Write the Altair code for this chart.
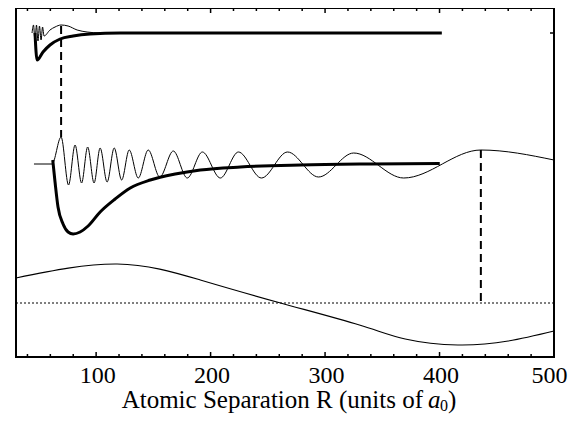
import altair as alt
import pandas as pd

# R in units of a0 ; E in arbitrary energy units (0 = dotted reference level)
top_thick_R = [46.6, 48.4, 53.6, 59.7, 68.5, 79.9, 94.7, 121, 200, 300, 402]
top_thick_E = [270, 243, 251, 258, 264, 267, 269, 270, 270, 270, 270]

top_thin_R = [44.0, 45.3, 46.6, 47.9, 49.2, 50.5, 51.9, 53.2, 54.5, 59.7, 64.1, 69.4, 75.5, 83.4, 92.1, 103.5, 141]
top_thin_E = [270, 278, 262, 278, 262, 277, 263, 276, 267, 273, 276, 278, 277, 273, 271, 270, 269.5]

mid_thick_R = [62.1, 64.1, 66.7, 71.1, 75.5, 79.9, 86.0, 93.0, 103.5, 116.6, 129.8, 147.3, 169.1, 191.0, 226.0, 278.6, 339.8, 400.2]
mid_thick_E = [143, 121, 96, 79, 71, 69, 71, 77, 91, 104, 115, 123, 129, 133, 136, 138, 139, 139.5]

mid_thin_R = [45.7, 61.5, 69.4, 75.9, 81.6, 87.3, 92.6, 98.2, 103.5, 109.6, 115.8, 122.3, 128.9, 136.8, 145.5,
              155.6, 167.4, 179.6, 192.8, 208.5, 224.3, 244.4, 267.2, 294.3, 325.0, 368.7, 436.1, 500]
mid_thin_E = [139, 139, 166, 118, 158, 120, 156, 120, 155, 121, 155, 123, 153, 125, 153,
              126, 152, 125, 151, 125, 151, 125, 151, 126, 150, 125, 153, 143]

low_R = [30, 118.4, 191.0, 261.1, 330, 370, 416.0, 460, 500]
low_E = [25, 39, 23, 0, -22, -36, -42, -38, -28]

dash_R = [69.4, 436.1]
dash_E1 = [277, 153]
dash_E2 = [166, 0]

ref_level = [0]
right_tick_level = [270]

label_values = [100, 200, 300, 400, 500]
minor_ticks = [40, 60, 80, 120, 140, 160, 180, 220, 240, 260, 280, 320, 340, 360, 380, 420, 440, 460, 480]
major_ticks = [100, 200, 300, 400]

title_parts = ["Atomic Separation R (units of", "a", "0", ")"]

W, H = 538, 349
FONT = "Liberation Serif"

x_scale = alt.Scale(domain=[30, 500], nice=False, zero=False)
y_scale = alt.Scale(domain=[-54, 295], nice=False, zero=False)
x_axis = alt.Axis(values=label_values, ticks=False, domain=False, grid=False, labelFont=FONT,
                  labelFontSize=24, labelColor="black", labelPadding=6, labelFlush=False, title=None,
                  labelOffset={"condition": {"test": "datum.value === 500", "value": -5}, "value": 1})


def line(R, E, width, interp="monotone"):
    df = pd.DataFrame({"R": R, "E": E})
    return alt.Chart(df).mark_line(strokeWidth=width, color="black", interpolate=interp).encode(
        x=alt.X("R:Q", scale=x_scale, axis=x_axis),
        y=alt.Y("E:Q", scale=y_scale, axis=None),
    )


layers = []
layers.append(line(low_R, low_E, 1.1, "natural"))
layers.append(line(top_thin_R, top_thin_E, 1.0))
layers.append(line(mid_thin_R, mid_thin_E, 1.0))
layers.append(line(top_thick_R, top_thick_E, 3))
layers.append(line(mid_thick_R, mid_thick_E, 3))

dash_df = pd.DataFrame({"R": dash_R, "E1": dash_E1, "E2": dash_E2})
layers.append(alt.Chart(dash_df).mark_rule(strokeWidth=2, strokeDash=[8, 5], color="black").encode(
    x=alt.X("R:Q", scale=x_scale, axis=x_axis),
    y=alt.Y("E1:Q", scale=y_scale, axis=None),
    y2="E2:Q",
))

layers.append(alt.Chart(pd.DataFrame({"E": ref_level})).mark_rule(strokeWidth=1, strokeDash=[2, 2], color="black").encode(
    y=alt.Y("E:Q", scale=y_scale, axis=None),
))

layers.append(alt.Chart(pd.DataFrame({"E": right_tick_level})).mark_rule(strokeWidth=1.5, color="black").encode(
    y=alt.Y("E:Q", scale=y_scale, axis=None),
    x=alt.value(W - 4), x2=alt.value(W),
))

for ticks, length in [(minor_ticks, 3), (major_ticks, 5)]:
    tdf = pd.DataFrame({"R": ticks})
    layers.append(alt.Chart(tdf).mark_rule(strokeWidth=1.5, color="black").encode(
        x=alt.X("R:Q", scale=x_scale, axis=x_axis), y=alt.value(0), y2=alt.value(length)))
    layers.append(alt.Chart(tdf).mark_rule(strokeWidth=1.5, color="black").encode(
        x=alt.X("R:Q", scale=x_scale, axis=x_axis), y=alt.value(H), y2=alt.value(H - length)))

# axis title pieces
tb = 400
pieces = [
    (title_parts[0], 407, tb, 25, "normal", "right"),
    (title_parts[1], 412, tb, 25, "italic", "left"),
    (title_parts[2], 424, tb + 3, 16, "normal", "left"),
    (title_parts[3], 432, tb, 25, "normal", "left"),
]
for txt, px, py, fs, style, al in pieces:
    layers.append(alt.Chart(pd.DataFrame({"t": [txt]})).mark_text(
        font=FONT, fontSize=fs, fontStyle=style, align=al, baseline="alphabetic", color="black"
    ).encode(text="t:N", x=alt.value(px), y=alt.value(py)))

chart = alt.layer(*layers).properties(
    width=W, height=H,
    autosize=alt.AutoSizeParams(type="none"),
    padding={"left": 8, "top": 0, "right": 16, "bottom": 57},
    background="white",
).configure(font=FONT).configure_view(stroke="black", strokeWidth=2)

chart.save("out.html", embed_options={"renderer": "svg", "actions": False})
